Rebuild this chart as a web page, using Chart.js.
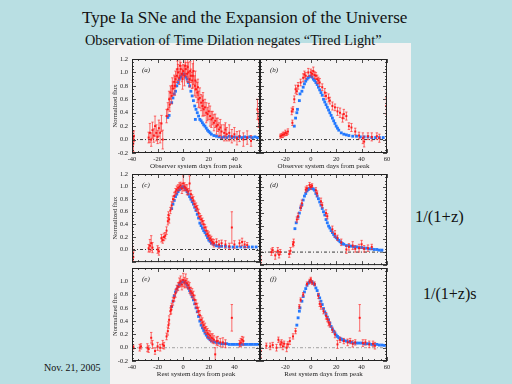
<!DOCTYPE html>
<html>
<head>
<meta charset="utf-8">
<script src="https://cdn.jsdelivr.net/npm/chart.js@4/dist/chart.umd.min.js"></script>
<style>
  html, body { margin:0; padding:0; }
  body { width:512px; height:384px; background:#b9dfe3; position:relative; overflow:hidden; font-family:"Liberation Serif","DejaVu Serif",serif; color:#111; }
  #fig { position:absolute; left:110px; top:43px; width:301px; height:341px; background:#f4f2f2; }
  .txt { position:absolute; white-space:nowrap; }
  canvas { position:absolute; }
</style>
</head>
<body>
<div id="fig"></div>
<div class="txt" style="left:82px;top:8px;font-size:17.1px;">Type Ia SNe and the Expansion of the Universe</div>
<div class="txt" style="left:85px;top:32px;font-size:14.3px;">Observation of Time Dilation negates “Tired Light”</div>
<div class="txt" style="left:415px;top:207px;font-size:16.5px;">1/(1+z)</div>
<div class="txt" style="left:423px;top:285px;font-size:16px;">1/(1+z)s</div>
<div class="txt" style="left:44px;top:362px;font-size:10px;">Nov. 21, 2005</div>

<canvas id="ca" width="170" height="120" style="left:100px;top:50px"></canvas>
<canvas id="cb" width="150" height="120" style="left:250px;top:50px"></canvas>
<canvas id="cc" width="170" height="105" style="left:100px;top:165px"></canvas>
<canvas id="cd" width="150" height="105" style="left:250px;top:165px"></canvas>
<canvas id="ce" width="170" height="119" style="left:100px;top:259px"></canvas>
<canvas id="cf" width="150" height="119" style="left:250px;top:259px"></canvas>

<script>
// ---------- DATA (days from peak, normalized flux, error) ----------
const xTicks = [-40, -20, 0, 20, 40, 60];
const yTicks = [-0.2, 0, 0.2, 0.4, 0.6, 0.8, 1.0, 1.2];

// (a) observer frame
const aRed = [[-39.5,0.02,0.1],[-39,-0.06,0.12],[-38.5,0.05,0.08],[-27,0.03,0.08],[-26,0.1,0.14],[-25,0.0,0.1],[-24,0.14,0.12],[-23,0.06,0.1],[-22,0.2,0.15],[-21,0.1,0.12],[-20,0.04,0.1],[-19,0.17,0.12],[-18,0.1,0.15],[-17,0.24,0.12],[-16,0.0,0.14],
[-13,0.35,0.1],[-12,0.45,0.1],[-11,0.6,0.12],[-10.5,0.52,0.1],[-10,0.7,0.1],[-9,0.65,0.12],[-8.5,0.8,0.12],[-8,0.76,0.1],[-7,0.86,0.1],[-6.5,0.8,0.14],[-6,0.9,0.12],[-5,0.95,0.1],[-4.5,1.05,0.12],[-4,1.0,0.12],[-3,0.92,0.1],[-2.5,1.1,0.15],[-2,1.05,0.1],[-1,0.98,0.12],[-0.5,0.9,0.15],[0,1.02,0.1],[1,0.95,0.15],[1.5,1.1,0.12],[2,1.05,0.1],[3,0.98,0.12],[3.5,1.08,0.15],[4,1.0,0.15],[5,0.9,0.12],[5.5,1.02,0.14],[6,0.95,0.1],[7,0.88,0.12],[7.5,0.95,0.18],[8,1.02,0.2],[9,0.8,0.15],[9.5,0.88,0.14],[10,0.75,0.12],[11,0.7,0.15],[11.5,0.78,0.12],[12,0.6,0.12],[13,0.62,0.15],[14,0.55,0.12],[15,0.5,0.15],[15.5,0.58,0.12],[16,0.45,0.1],[17,0.48,0.12],[18,0.4,0.15],[19,0.38,0.1],[20,0.42,0.12],[21,0.35,0.15],[22,0.3,0.12],[23,0.32,0.1],[24,0.25,0.12],[25,0.28,0.1],[26,0.2,0.12],[27,0.22,0.1],[28,0.15,0.1],[29,0.18,0.12],[30,0.12,0.1],[32,0.1,0.12],[33,0.15,0.1],[34,0.08,0.1],[36,0.1,0.12],[38,0.05,0.1],[40,0.08,0.1],[42,0.02,0.1],[44,0.05,0.08],[47,0.0,0.1],[50,0.03,0.1],[53,-0.02,0.08],[58,0.45,0.15],[59,0.3,0.12]];
const aBlue = [[-12,0.33],[-11,0.36],[-9,0.55],[-8,0.62],[-7,0.68],[-6,0.72],[-5,0.8],[-4,0.85],[-3,0.9],[-2,0.93],[-1,0.97],[0,0.98],[1,0.97],[2,0.93],[3,0.9],[4,0.85],[5,0.8],[6,0.72],[7,0.65],[8,0.58],[9,0.5],[9.5,0.3],[10,0.45],[11,0.4],[12,0.35],[13,0.3],[14,0.28],[15,0.25],[16,0.22],[17,0.2],[18,0.17],[19,0.14],[20,0.12],[21,0.1],[22,0.08],[24,0.06],[26,0.05],[28,0.04],[30,0.03],[32,0.04],[34,0.03],[36,0.05],[38,0.03],[40,0.04],[42,0.03],[44,0.04],[46,0.03],[48,0.04],[50,0.03],[52,0.04],[54,0.03],[56,0.04],[58,0.03]];

// (b)
const bRed = [[-24,0.05,0.03],[-23,0.06,0.03],[-22,0.07,0.04],[-21,0.08,0.03],[-20,0.1,0.04],[-19,0.09,0.03],[-18,0.12,0.04],[-14.5,0.25,0.04],[-15,0.42,0.05],[-14,0.45,0.04],[-13,0.6,0.05],[-12,0.75,0.06],[-11,0.72,0.05],[-10,0.8,0.05],[-8,0.85,0.05],[-6,0.92,0.06],[-5,0.97,0.05],[-4,0.95,0.05],[-2,1.0,0.06],[0,1.0,0.05],[1,0.98,0.05],[2,1.02,0.06],[3,0.96,0.05],[4,0.95,0.05],[5,0.9,0.06],[6,0.88,0.05],[7,0.85,0.06],[9,0.78,0.05],[11,0.7,0.06],[12,0.65,0.05],[14,0.62,0.06],[15,0.58,0.05],[17,0.5,0.06],[19,0.48,0.05],[21,0.42,0.06],[23,0.4,0.07],[25,0.32,0.06],[26,0.38,0.07],[28,0.35,0.06],[30,0.2,0.05],[32,0.18,0.06],[35,0.12,0.05],[38,0.06,0.05],[41,0.02,0.08],[42,-0.03,0.08],[45,0.05,0.05],[48,0.04,0.06],[52,0.05,0.05],[54,0.02,0.06],[59.5,0.5,0.12]];
const bBlue = [[-13,0.2],[-12,0.32],[-11,0.4],[-10.5,0.45],[-9,0.58],[-8.5,0.68],[-7,0.72],[-6,0.78],[-5,0.83],[-4,0.87],[-3,0.9],[-2,0.92],[-1,0.94],[0,0.95],[1,0.93],[2,0.9],[3,0.88],[4,0.85],[5,0.82],[6,0.78],[7,0.74],[8,0.7],[9,0.66],[10,0.6],[11,0.56],[12,0.52],[13,0.48],[14,0.44],[15,0.4],[16,0.36],[17,0.32],[18,0.28],[19,0.24],[20,0.2],[21,0.17],[22,0.14],[24,0.1],[26,0.08],[28,0.07],[30,0.06],[33,0.05],[36,0.05],[39,0.04],[42,0.04],[45,0.04],[48,0.03],[51,0.03],[54,0.03],[57,0.03]];

// (c) corrected by 1/(1+z)
const cRed = [[-39.5,-0.05,0.1],[-39,-0.12,0.08],[-27,0.02,0.06],[-26,0.06,0.1],[-25,0.1,0.12],[-24,0.03,0.08],[-20,0.0,0.06],[-19,-0.03,0.06],[-17,0.18,0.06],[-16,0.15,0.05],[-15,0.2,0.06],[-14,0.22,0.05],[-13,0.3,0.06],[-12,0.45,0.06],[-11.5,0.55,0.05],[-11,0.48,0.06],[-10,0.62,0.05],[-9,0.7,0.06],[-8,0.8,0.05],[-7,0.85,0.06],[-6,0.92,0.05],[-5,0.95,0.06],[-4,0.98,0.05],[-3,1.0,0.06],[-2,1.02,0.05],[-1,0.97,0.08],[0,1.05,0.12],[1,1.0,0.06],[2,0.98,0.05],[3,0.95,0.08],[4,0.92,0.05],[5,1.05,0.12],[6,0.88,0.06],[7,0.82,0.05],[8,0.78,0.06],[9,0.72,0.05],[10,0.68,0.06],[11,0.65,0.05],[12,0.58,0.06],[13,0.52,0.05],[14,0.48,0.06],[15,0.45,0.05],[16,0.4,0.06],[17,0.35,0.05],[18,0.3,0.06],[19,0.25,0.05],[20,0.22,0.06],[21,0.18,0.05],[22,0.15,0.06],[23,0.12,0.05],[24,0.1,0.06],[26,0.12,0.05],[28,0.08,0.06],[30,0.1,0.05],[33,0.08,0.06],[36,0.05,0.05],[38,0.35,0.25],[40,0.08,0.06],[44,0.1,0.05],[46,0.12,0.06],[48,0.08,0.05],[50,0.07,0.04]];
const cBlue = [[-9,0.65],[-8,0.72],[-7,0.78],[-6,0.84],[-5,0.88],[-4,0.92],[-3,0.95],[-2,0.97],[-1,0.99],[0,1.0],[1,0.98],[2,0.95],[3,0.92],[4,0.88],[5,0.84],[6,0.8],[7,0.76],[8,0.72],[9,0.67],[10,0.62],[11,0.56],[12,0.5],[13,0.42],[14,0.38],[15,0.34],[16,0.3],[17,0.27],[18,0.23],[19,0.19],[20,0.15],[21,0.13],[22,0.1],[24,0.08],[26,0.06],[28,0.05],[30,0.05],[33,0.05],[36,0.04],[39,0.04],[42,0.04],[45,0.04],[48,0.04],[51,0.04],[54,0.04],[57,0.04]];

// (d)
const dRed = [[-40,-0.08,0.08],[-39.5,-0.12,0.06],[-31,0.0,0.05],[-30,0.03,0.04],[-28,-0.05,0.06],[-26,0.02,0.05],[-25,-0.04,0.05],[-24,0.0,0.04],[-17,-0.03,0.05],[-16,0.02,0.05],[-14,0.12,0.04],[-13.5,0.15,0.05],[-11,0.5,0.04],[-10,0.55,0.05],[-8,0.68,0.04],[-7,0.75,0.05],[-4,0.96,0.04],[-3,0.98,0.04],[-1,1.03,0.04],[0,1.0,0.04],[1,1.02,0.03],[4,0.95,0.04],[5,0.9,0.04],[8,0.78,0.05],[9,0.72,0.04],[12,0.6,0.05],[13,0.55,0.04],[17,0.35,0.05],[19,0.28,0.05],[21,0.22,0.04],[24,0.15,0.05],[28,0.04,0.06],[30,0.08,0.05],[33,0.1,0.06],[35,0.05,0.05],[38,0.06,0.06],[40,0.12,0.06],[42,0.05,0.05],[45,0.06,0.05],[48,0.08,0.04]];
const dBlue = [[-12.5,0.36],[-11.5,0.45],[-10,0.54],[-9,0.6],[-8,0.68],[-7,0.73],[-6,0.8],[-5,0.86],[-4,0.9],[-3,0.94],[-2,0.96],[-1,0.98],[0,0.99],[1,0.98],[2,0.97],[3,0.95],[4,0.9],[5,0.86],[6,0.82],[7,0.77],[8,0.72],[9,0.67],[10,0.62],[11,0.57],[12,0.5],[13,0.45],[14,0.4],[15,0.37],[16,0.33],[17,0.3],[18,0.27],[19,0.24],[20,0.22],[21,0.2],[22,0.18],[23,0.16],[24,0.14],[25,0.13],[26,0.12],[28,0.1],[30,0.1],[32,0.09],[34,0.08],[36,0.08],[38,0.07],[40,0.07],[42,0.06],[44,0.06],[46,0.05],[48,0.05],[50,0.04],[52,0.04],[54,0.03],[56,0.03]];

// (e) rest frame, stretch corrected
const eRed = [[-40,0.0,0.04],[-39,0.01,0.03],[-34,0.0,0.05],[-33,0.02,0.04],[-28,0.0,0.06],[-27,-0.02,0.05],[-25,0.15,0.08],[-24,0.05,0.06],[-22,-0.05,0.05],[-20,0.02,0.06],[-18,0.0,0.05],[-16,0.05,0.06],[-15,0.03,0.05],[-13,0.17,0.05],[-12,0.25,0.06],[-11.5,0.34,0.05],[-11,0.42,0.06],[-10,0.55,0.05],[-9.5,0.57,0.06],[-9,0.62,0.05],[-8,0.7,0.06],[-7,0.75,0.05],[-6,0.82,0.06],[-5,0.89,0.05],[-4,0.92,0.06],[-3,0.98,0.07],[-2,1.0,0.08],[-1,0.95,0.08],[0,1.02,0.1],[1,0.98,0.08],[2,1.01,0.1],[3,0.97,0.07],[4,0.94,0.06],[5,0.9,0.08],[6,0.85,0.06],[7,0.82,0.07],[8,0.79,0.06],[9,0.72,0.07],[10,0.66,0.06],[11,0.6,0.07],[12,0.55,0.06],[13,0.49,0.07],[14,0.42,0.06],[15,0.38,0.07],[16,0.34,0.06],[17,0.3,0.07],[18,0.26,0.06],[19,0.22,0.07],[20,0.2,0.06],[21,0.18,0.07],[22,0.15,0.06],[23,0.14,0.07],[24,0.12,0.06],[25,-0.1,0.1],[26,0.1,0.06],[27,0.1,0.07],[29,0.08,0.06],[31,0.08,0.07],[33,0.06,0.06],[38,0.45,0.2],[44,0.06,0.05],[45,0.08,0.06],[46,0.12,0.05],[47,0.1,0.06]];
const eBlue = [[-9,0.62],[-8,0.7],[-7,0.78],[-6,0.84],[-5,0.88],[-4,0.92],[-3,0.95],[-2,0.97],[-1,0.99],[0,1.0],[1,0.99],[2,0.97],[3,0.94],[4,0.9],[5,0.86],[6,0.82],[7,0.77],[8,0.72],[9,0.66],[10,0.6],[11,0.54],[12,0.47],[13,0.4],[14,0.34],[15,0.3],[16,0.26],[17,0.22],[18,0.19],[19,0.16],[20,0.14],[21,0.12],[22,0.1],[24,0.09],[26,0.08],[28,0.07],[30,0.06],[32,0.06],[34,0.06],[36,0.05],[38,0.05],[40,0.05],[42,0.05],[44,0.05],[46,0.05],[48,0.05],[50,0.05],[52,0.05],[54,0.05],[56,0.05],[58,0.05]];

// (f)
const fRed = [[-39.5,-0.05,0.1],[-35,0.03,0.04],[-32,0.02,0.05],[-30,0.04,0.04],[-27,0.0,0.05],[-25.5,0.12,0.04],[-24,0.05,0.05],[-23,0.08,0.04],[-22,0.02,0.05],[-21,0.06,0.04],[-19,0.0,0.06],[-18,0.05,0.04],[-16.5,0.1,0.05],[-14,0.17,0.04],[-12,0.25,0.04],[-9,0.62,0.03],[-8,0.72,0.03],[-6,0.8,0.03],[-3,0.96,0.03],[-1,1.0,0.03],[0,1.03,0.03],[1,0.98,0.03],[3,0.96,0.03],[6,0.78,0.04],[7,0.66,0.04],[8,0.62,0.04],[10,0.55,0.04],[12,0.48,0.05],[13,0.43,0.04],[14,0.38,0.05],[15,0.35,0.04],[17,0.27,0.04],[19,0.2,0.05],[21,0.05,0.06],[23,0.12,0.04],[26,0.1,0.04],[29,0.08,0.05],[31,0.1,0.04],[33,0.06,0.05],[35,0.08,0.04],[38.5,0.45,0.2],[41,0.07,0.05],[43,0.08,0.04],[46,0.05,0.05],[49,0.06,0.04],[50.5,0.03,0.05]];
const fBlue = [[-11,0.34],[-10,0.45],[-9,0.55],[-8.5,0.6],[-7,0.7],[-6,0.77],[-5,0.84],[-4,0.89],[-3,0.94],[-2,0.97],[-1,0.99],[0,1.0],[1,0.99],[2,0.97],[3,0.95],[4,0.9],[5,0.86],[6,0.8],[7,0.75],[8,0.7],[9,0.65],[10,0.59],[11,0.54],[12,0.5],[13,0.46],[14,0.42],[15,0.37],[16,0.32],[17,0.28],[18,0.25],[19,0.22],[20,0.19],[21,0.17],[22,0.15],[23,0.14],[24,0.13],[25,0.12],[26,0.11],[28,0.1],[30,0.09],[32,0.08],[34,0.07],[36,0.07],[38,0.07],[40,0.07],[42,0.06],[44,0.06],[46,0.06],[48,0.05],[50,0.05],[52,0.05],[54,0.04],[56,0.04],[58,0.035]];

const obsTitle = "Observer system days from peak";
const restTitle = "Rest system days from peak";
const yTitle = "Normalized flux";

// ---------- RENDERING ----------
const SERIF = "'Liberation Serif','DejaVu Serif',serif";
const RED = '#ff1a1a', REDBAR = 'rgba(255,40,40,0.75)', BLUE = '#2479ff';

const frame = {
  id: 'frame',
  afterDatasetsDraw(chart, args, o) {
    const {ctx, chartArea: a, scales: {x, y}} = chart;
    ctx.save();
    ctx.strokeStyle = '#222'; ctx.lineWidth = 1;
    ctx.strokeRect(a.left + 0.5, a.top + 0.5, a.right - a.left - 1, a.bottom - a.top - 1);
    ctx.lineWidth = 0.8;
    ctx.beginPath();
    for (let v = -40; v <= 60; v += 5) {
      const p = Math.round(x.getPixelForValue(v)) + 0.5, L = v % 20 === 0 ? 4 : 2;
      ctx.moveTo(p, a.top); ctx.lineTo(p, a.top + L);
      ctx.moveTo(p, a.bottom); ctx.lineTo(p, a.bottom - L);
    }
    for (let k = -4; k <= 24; k++) {
      const v = k * 0.05, p = Math.round(y.getPixelForValue(v)) + 0.5, L = k % 4 === 0 ? 4 : 2;
      ctx.moveTo(a.left, p); ctx.lineTo(a.left + L, p);
      ctx.moveTo(a.right, p); ctx.lineTo(a.right - L, p);
    }
    ctx.stroke();
    ctx.fillStyle = '#222';
    ctx.font = 'italic 7px ' + SERIF;
    ctx.textBaseline = 'middle';
    ctx.fillText(o.label, a.left + 10, a.top + 11);
    ctx.restore();
  }
};

function makePanel(id, label, red, blue, opt) {
  const errData = [];
  red.forEach(r => { errData.push({x: r[0], y: r[1] - r[2]}, {x: r[0], y: r[1] + r[2]}, {x: r[0], y: null}); });
  const ticksFont = {family: SERIF, size: 6.5};
  new Chart(document.getElementById(id), {
    type: 'scatter',
    data: {
      datasets: [
        {data: red.map(r => ({x: r[0], y: r[1]})), pointStyle: 'rect', pointRadius: 1.4, backgroundColor: RED, borderColor: RED, borderWidth: 0, clip: 0},
        {data: errData, showLine: true, spanGaps: false, borderColor: REDBAR, borderWidth: 0.9, pointStyle: 'line', pointRadius: 1.2, pointBorderColor: REDBAR, pointBorderWidth: 0.9, clip: 0},
        {data: blue.map(b => ({x: b[0], y: b[1]})), pointStyle: 'rect', pointRadius: 2.0, backgroundColor: BLUE, borderColor: BLUE, borderWidth: 0, clip: 0},
        {data: xTicks.filter((v, i) => i === 0 || i === xTicks.length - 1).map(v => ({x: v, y: 0})), showLine: true, borderColor: opt.zeroColor, borderWidth: 0.9, borderDash: [3, 2, 1, 2], pointRadius: 0, clip: 0}
      ]
    },
    options: {
      animation: false, responsive: false, devicePixelRatio: 1,
      layout: {padding: opt.padding},
      plugins: {legend: {display: false}, tooltip: {enabled: false}, frame: {label: label}},
      scales: {
        x: {
          type: 'linear', min: -40, max: 60, display: opt.showX,
          afterBuildTicks: s => { s.ticks = xTicks.map(v => ({value: v})); },
          ticks: {font: ticksFont, color: '#222', padding: 2, maxRotation: 0, autoSkip: false,
                  callback: v => opt.xLabels.includes(v) ? String(v) : ''},
          grid: {display: true, drawOnChartArea: false, drawTicks: false},
          border: {display: false},
          title: {display: opt.showX, text: opt.xTitle, font: {family: SERIF, size: 7}, color: '#222', padding: {top: 0, bottom: 0}},
          afterFit: s => { s.height = opt.showX ? 17 : 0; }
        },
        y: {
          type: 'linear', min: -0.2, max: 1.2, display: opt.showY,
          afterBuildTicks: s => { s.ticks = yTicks.map(v => ({value: v})); },
          ticks: {font: ticksFont, color: '#222', padding: 4, autoSkip: false,
                  callback: v => opt.yLabels.some(t => Math.abs(t - v) < 1e-6) ? v.toFixed(1) : ''},
          grid: {display: true, drawOnChartArea: false, drawTicks: false},
          border: {display: false},
          title: {display: opt.showY, text: yTitle, font: {family: SERIF, size: 6.5}, color: '#222', padding: {top: 11, bottom: 0}},
          afterFit: s => { s.width = opt.showY ? 32 : 0; }
        }
      }
    },
    plugins: [frame]
  });
}

const allY = [-0.2, 0, 0.2, 0.4, 0.6, 0.8, 1.0, 1.2];
makePanel('ca', '(a)', aRed, aBlue, {showX: true, showY: true, xTitle: obsTitle, xLabels: [-40, -20, 0, 20, 40], yLabels: allY, zeroColor: '#222', padding: {top: 9, right: 10, left: 0, bottom: 0}});
makePanel('cb', '(b)', bRed, bBlue, {showX: true, showY: false, xTitle: obsTitle, xLabels: [-20, 0, 20, 40, 60], yLabels: [], zeroColor: '#222', padding: {top: 9, right: 13, left: 10, bottom: 0}});
makePanel('cc', '(c)', cRed, cBlue, {showX: false, showY: true, xTitle: '', xLabels: [], yLabels: [0, 0.2, 0.4, 0.6, 0.8, 1.0, 1.2], zeroColor: '#222', padding: {top: 9, right: 10, left: 0, bottom: 2}});
makePanel('cd', '(d)', dRed, dBlue, {showX: false, showY: false, xTitle: '', xLabels: [], yLabels: [], zeroColor: '#222', padding: {top: 9, right: 13, left: 10, bottom: 2}});
makePanel('ce', '(e)', eRed, eBlue, {showX: true, showY: true, xTitle: restTitle, xLabels: [-40, -20, 0, 20, 40], yLabels: [-0.2, 0, 0.2, 0.4, 0.6, 0.8, 1.0], zeroColor: '#9a9a9a', padding: {top: 9, right: 10, left: 0, bottom: 0}});
makePanel('cf', '(f)', fRed, fBlue, {showX: true, showY: false, xTitle: restTitle, xLabels: [-20, 0, 20, 40, 60], yLabels: [], zeroColor: '#9a9a9a', padding: {top: 9, right: 13, left: 10, bottom: 0}});
</script>
</body>
</html>
